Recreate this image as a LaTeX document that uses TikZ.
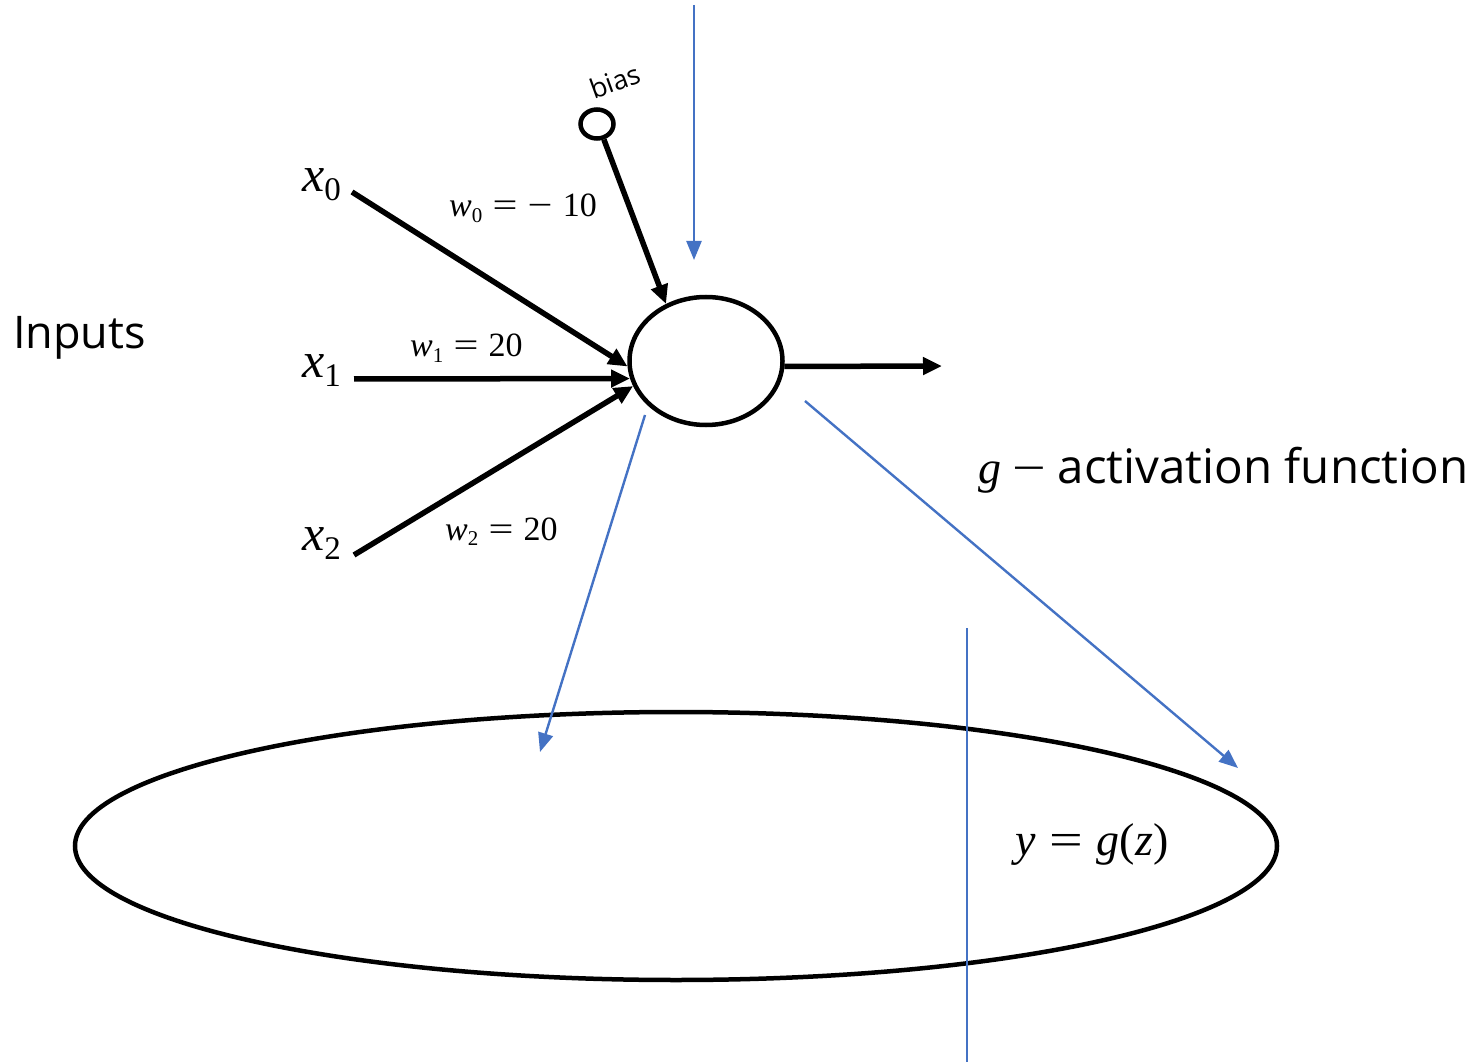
\documentclass[tikz,border=0pt]{standalone}
\usepackage{fontspec}
\usepackage{graphicx}
\setmainfont{Liberation Serif}
\setsansfont{Open Sans}
\usetikzlibrary{arrows.meta,shapes.geometric}
\definecolor{bl}{HTML}{4472C4}
\newcommand{\fs}[1]{\fontsize{#1}{#1}\selectfont}
\newcommand{\eqs}{\hspace{0.3em}\scalebox{1.3}[1]{=}\hspace{0.3em}}
\newcommand{\mns}{\scalebox{1.3}[1]{−}}
\newcommand{\xin}[1]{{\fs{50}\textit{x}\raisebox{-0.18em}{\fs{33}#1}}}
\newcommand{\win}[1]{{\fs{34}\textit{w}\raisebox{-0.17em}{\fs{21}#1}}}
\tikzset{
  lbl/.style={inner sep=0pt, anchor=base west},
  blk/.style={line width=5.5pt, -{Triangle[length=19pt,width=17pt]}},
  blu/.style={draw=bl, line width=2.4pt, -{Triangle[length=19pt,width=15pt]}},
  bluplain/.style={draw=bl, line width=2.4pt},
  ring/.style={ellipse, draw, line width=4.5pt, inner sep=0pt}
}
\begin{document}
\begin{tikzpicture}[x=1pt,y=-1pt]
\useasboundingbox (0,0) rectangle (1478,1064);
% nodes
\node[ring, minimum width=153pt, minimum height=128pt] (neuron) at (706,361) {};
\node[ring, minimum width=33pt, minimum height=29pt] (bias) at (597,124) {};
\node[ring, minimum width=1202pt, minimum height=268pt] (big) at (676,846) {};
% labels
\node[lbl] (lx0) at (302,192) {\xin{0}};
\node[lbl] (lx1) at (302,378) {\xin{1}};
\node[lbl] (lx2) at (302,550) {\xin{2}};
\node[lbl] (lw0) at (449,217) {\fs{34}\win{0}\eqs\mns\hspace{0.3em}10};
\node[lbl] (lw1) at (410,357) {\fs{34}\win{1}\eqs 20};
\node[lbl] (lw2) at (445,540) {\fs{34}\win{2}\eqs 20};
\node[lbl] (inputs) at (13,349) {\sffamily\fs{45}Inputs};
\node[lbl] (act) at (978,483) {{\fs{46}\textit{g}\hspace{0.25em}\mns\hspace{0.25em}}{\sffamily\fs{47.5}activation function}};
\node[lbl] (yg) at (1015,855) {\fs{46}\textit{y}\eqs\textit{g}(\textit{z})};
\node[inner sep=0pt, rotate=20] (lbias) at (615,81) {\sffamily\fs{27}bias};
% coordinates
\coordinate (s0) at (352,192);
\coordinate (s1) at (354,379);
\coordinate (s2) at (354,555);
\coordinate (outend) at (942,366);
\coordinate (b1s) at (694,5);
\coordinate (b1e) at (694,260);
\coordinate (b2s) at (645,415);
\coordinate (b2e) at (540,752);
\coordinate (b3s) at (805,401);
\coordinate (b3e) at (1238,768);
\coordinate (v1) at (967,628);
\coordinate (v2) at (967,1062);
% connectors
\draw[blk] (s0) -- (neuron.184);
\draw[blk] (s1) -- (neuron.193);
\draw[blk] (s2) -- (neuron.199);
\draw[blk] (bias.-66) -- (neuron.125);
\draw[blk] (neuron.-4) -- (outend);
\draw[blu] (b1s) -- (b1e);
\draw[blu] (b2s) -- (b2e);
\draw[blu] (b3s) -- (b3e);
\draw[bluplain] (v1) -- (v2);
\end{tikzpicture}
\end{document}
